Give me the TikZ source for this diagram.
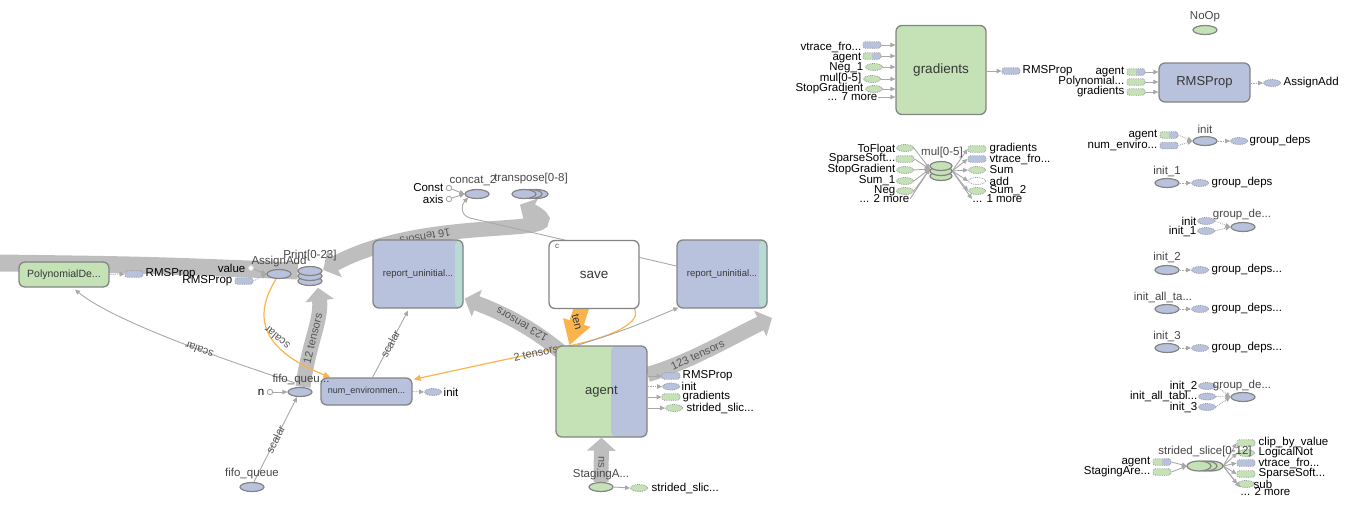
\documentclass[tikz,border=0pt]{standalone}
\usepackage{fontspec}
\setmainfont{Liberation Sans}
\usetikzlibrary{shapes.geometric,arrows.meta,calc}
\pgfdeclarelayer{bg}
\pgfsetlayers{bg,main}
\definecolor{nodeblue}{RGB}{184,194,221}
\definecolor{nodegreen}{RGB}{196,226,182}
\definecolor{tealc}{RGB}{182,219,212}
\definecolor{bordergray}{RGB}{132,132,132}
\definecolor{pillborder}{RGB}{150,150,160}
\definecolor{bandgray}{RGB}{190,190,190}
\definecolor{edgegray}{RGB}{168,168,168}
\definecolor{orangec}{RGB}{250,180,75}
\definecolor{txtgray}{RGB}{70,70,70}
\definecolor{boxtxt}{RGB}{55,55,55}
\definecolor{edgetxt}{RGB}{85,85,85}
\begin{document}
\begin{tikzpicture}[x=1pt,y=-1pt,
  lbl/.style={font=\fontsize{11.5}{12}\selectfont, text=black, inner sep=0.5pt},
  nlbl/.style={font=\fontsize{11.5}{12}\selectfont, text=txtgray, inner sep=0.5pt},
  elbl/.style={font=\fontsize{11}{12}\selectfont, text=edgetxt, inner sep=0pt},
  bigbox/.style={draw=bordergray, line width=1.3pt, rounded corners=6pt, inner sep=0pt, text=boxtxt},
  bbox/.style={bigbox, fill=nodeblue},
  gbox/.style={bigbox, fill=nodegreen},
  reportbox/.style={bbox, minimum width=90pt, minimum height=68pt, font=\fontsize{9.5}{11}\selectfont,
    path picture={\fill[tealc] ([xshift=-8pt]path picture bounding box.north east) rectangle (path picture bounding box.south east);}},
  agentbox/.style={gbox, minimum width=91pt, minimum height=91pt, font=\fontsize{13}{14}\selectfont,
    path picture={\fill[nodeblue] ([xshift=9.5pt]path picture bounding box.north) rectangle (path picture bounding box.south east);}},
  opnode/.style={ellipse, draw=bordergray, line width=1.2pt, fill=nodeblue, minimum width=24pt, minimum height=9pt, inner sep=0pt},
  gop/.style={opnode, fill=nodegreen},
  pill/.style={rounded corners=2.5pt, draw=pillborder, densely dotted, line width=0.8pt, minimum width=18pt, minimum height=6.5pt, inner sep=0pt},
  pillb/.style={pill, fill=nodeblue},
  pillg/.style={pill, fill=nodegreen},
  pillgb/.style={pill, fill=nodegreen, path picture={\fill[nodeblue] (path picture bounding box.north) rectangle (path picture bounding box.south east);}},
  dell/.style={ellipse, draw=pillborder, densely dotted, line width=0.8pt, minimum width=17pt, minimum height=7pt, inner sep=0pt},
  dellb/.style={dell, fill=nodeblue},
  dellg/.style={dell, fill=nodegreen},
  dellw/.style={dell, fill=white},
  cst/.style={circle, draw=edgegray, fill=white, line width=0.9pt, minimum size=5.5pt, inner sep=0pt},
  tedge/.style={draw=edgegray, line width=0.9pt, -{Triangle[width=4.5pt,length=5pt]}},
  cedge/.style={tedge, densely dotted},
  oedge/.style={draw=orangec, line width=1.2pt, -{Triangle[width=6pt,length=7pt]}},
  band/.style={draw=bandgray, line width=15pt},
  oband/.style={draw=orangec, line width=15pt},
  bigtip/.style={-{Triangle[width=28pt,length=13pt]}}
]
\useasboundingbox (0,0) rectangle (1356,504);

% ---------------- left part: nodes ----------------
\node[gbox, minimum width=90pt, minimum height=25pt, font=\fontsize{10.5}{12}\selectfont] (poly) at (64,274.5) {PolynomialDe...};
\node[pillb] (polyout) at (134,274) {};
\node[lbl, anchor=west] (polyoutl) at (145,274) {RMSProp};

\node[opnode] (assign) at (279,274) {};
\node[nlbl] (assignl) at (279,262) {AssignAdd};
\node[cst, draw=white!70!gray, minimum size=5pt] (valc) at (251,268) {};
\node[lbl, anchor=east] (vall) at (246,268) {value};
\node[pillb] (assignin) at (244,281) {};
\node[lbl, anchor=east] (assigninl) at (233,281) {RMSProp};

\node[minimum width=24pt, minimum height=19pt, inner sep=0pt] (print) at (310,276) {};
\foreach \yy in {281,276,271} \node[opnode] at (310,\yy) {};
\node[nlbl] (printl) at (310,256) {Print[0-23]};

\node[cst] (const) at (449,188) {};
\node[lbl, anchor=east] (constl) at (444,188) {Const};
\node[cst] (axis) at (449,199) {};
\node[lbl, anchor=east] (axisl) at (444,199) {axis};
\node[opnode] (concat) at (477,194) {};
\node[minimum width=36pt, minimum height=9pt, inner sep=0pt] (transp) at (530,194) {};
\foreach \xx in {536,530,524} \node[opnode] at (\xx,194) {};
\node[nlbl] (concatl) at (473,181) {concat\_2};
\node[nlbl] (transpl) at (531,179) {transpose[0-8]};

\node[reportbox] (repL) at (418,274) {report\_uninitial...};
\node[bigbox, fill=white, minimum width=90pt, minimum height=68pt, font=\fontsize{13.5}{14}\selectfont] (save) at (594,274.5) {save};
\node[font=\fontsize{8}{8}\selectfont, text=edgetxt, inner sep=0pt] (savec) at (557,246) {c};
\node[reportbox] (repR) at (722,274) {report\_uninitial...};

\node[agentbox] (agent) at (601.5,391.5) {agent};
\node[pillb] (ao1) at (671,376) {};
\node[lbl, anchor=west] (ao1l) at (682,376) {RMSProp};
\node[dellb] (ao2) at (671,386.5) {};
\node[lbl, anchor=west] (ao2l) at (681,386.5) {init};
\node[pillg] (ao3) at (671,397) {};
\node[lbl, anchor=west] (ao3l) at (682,397) {gradients};
\node[dellg] (ao4) at (674,408) {};
\node[lbl, anchor=west] (ao4l) at (686,408) {strided\_slic...};

\node[bbox, minimum width=91pt, minimum height=27pt, font=\fontsize{9}{11}\selectfont] (numenv) at (366.5,391.5) {num\_environmen...};
\node[dellb] (nei) at (433,392) {};
\node[lbl, anchor=west] (neil) at (443,392) {init};

\node[opnode] (fifoq) at (300,392) {};
\node[nlbl] (fifoql) at (301,380) {fifo\_queu...};
\node[cst] (nc) at (270,392) {};
\node[lbl, anchor=east] (ncl) at (265,392) {n};
\node[opnode] (fifo) at (252,487) {};
\node[nlbl] (fifol) at (252,474) {fifo\_queue};

\node[gop] (stag) at (601,487) {};
\node[nlbl] (stagl) at (601,475) {StagingA...};
\node[dellg] (stagout) at (639,488) {};
\node[lbl, anchor=west] (stagoutl) at (651,488) {strided\_slic...};

% ---------------- left part: edges ----------------
\begin{pgfonlayer}{bg}
\coordinate (lefte) at (0,263);
\coordinate (rightend) at (772,318);
\draw[band, line width=17pt] (lefte) .. controls (150,265) .. ($(print.west)+(0,-5)$);
\draw[band, {Triangle[width=30pt,length=13pt]}-{Triangle[width=28pt,length=13pt]}]
  ($(print.east)+(1,-6)$) .. controls (430,212) and (585,240) .. ($(transp.south)+(-10,6)$)
  node[elbl, pos=0.3, sloped, rotate=180] {16 tensors};
\draw[band, bigtip] ($(agent.north west)+(5,6)$) .. controls (530,326) and (500,312) .. ($(repL.south east)+(1,-10)$)
  node[elbl, pos=0.42, sloped, allow upside down] {123 tensors};
\draw[band, bigtip] ($(agent.east)+(0,-17)$) .. controls (690,362) and (730,338) .. (rightend)
  node[elbl, pos=0.4, sloped] {123 tensors};
\draw[band, bigtip] ($(fifoq.north)+(3,0)$) .. controls (308,345) and (322,320) .. ($(print.south)+(8,2)$)
  node[elbl, pos=0.45, sloped] {12 tensors};
\draw[band, bigtip] (stag.north) -- (agent.south) node[elbl, pos=0.45, rotate=-90] {ns};
\draw[oband, -{Triangle[width=27pt,length=24pt]}] ($(save.south)+(-11,-6)$) -- ($(agent.north west)+(14,0)$)
  node[elbl, pos=0.45, rotate=-75, text=boxtxt] {ten};

\draw[tedge] ($(fifoq.north)+(-5,-4)$) .. controls (200,352) and (110,318) .. ($(poly.south)+(11,2)$)
  node[elbl, pos=0.35, sloped, allow upside down] {scalar};
\draw[oedge] ($(assign.south)+(-3,0)$) .. controls (252,318) and (262,350) .. ($(numenv.north west)+(10,0)$);
\draw[tedge] ($(numenv.north)+(6,0)$) -- ($(repL.south)+(-10,2)$) node[elbl, midway, sloped] {scalar};
\draw[tedge] ($(fifo.north)+(2,0)$) -- ($(fifoq.south)+(-3,0)$) node[elbl, midway, sloped] {scalar};
\draw[tedge] (nc) -- (fifoq.west);
\draw[oedge] ($(save.south east)+(-5,0)$) .. controls (643,325) and (600,340) .. ($(agent.north west)+(11,1)$)
  -- ($(numenv.north east)+(1,2)$) node[elbl, pos=0.2, sloped] {2 tensors};
\draw[tedge] ($(agent.north west)+(22,0)$) .. controls (625,330) .. ($(repR.south west)+(2,-1)$);
\draw[tedge] ($(repR.west)+(0,-8)$) -- (470,218) .. controls (460,215) and (461,205) .. (concat.south west);
\draw[tedge] (const) -- (concat.west);
\draw[tedge] (axis) -- (concat.west);
\draw[tedge] (valc) -- (assign.west);
\draw[cedge] (assignin.east) -- (assign.west);
\draw[cedge] (poly.east) -- (polyout.west);
\draw[cedge] (numenv.east) -- (nei.west);
\draw[tedge] (agent.east |- ao1) -- (ao1.west);
\draw[cedge] (agent.east |- ao2) -- (ao2.west);
\draw[tedge] (agent.east |- ao3) -- (ao3.west);
\draw[tedge] (agent.east |- ao4) -- (ao4.west);
\draw[tedge] (stag.east) -- (stagout.west);
\end{pgfonlayer}
\node[elbl, rotate=140] (oscal) at (277,338) {scalar};

% ---------------- right part ----------------
\node[gbox, minimum width=90pt, minimum height=89pt, font=\fontsize{13.5}{14}\selectfont] (grad) at (941,70) {gradients};
\node[pillb] (gi1) at (872,45) {};
\node[lbl, anchor=east] (gi1l) at (862,47) {vtrace\_fro...};
\node[pillgb] (gi2) at (872,56) {};
\node[lbl, anchor=east] (gi2l) at (862,57.5) {agent};
\node[dellg] (gi3) at (874,67) {};
\node[lbl, anchor=east] (gi3l) at (864,67.5) {Neg\_1};
\node[dellg] (gi4) at (872,79) {};
\node[lbl, anchor=east] (gi4l) at (862,78.5) {mul[0-5]};
\node[dellg] (gi5) at (874,89) {};
\node[lbl, anchor=east] (gi5l) at (864,88.5) {StopGradient};
\node[lbl, anchor=east] (gi6l) at (878,97) {... 7 more};
\foreach \n in {gi1,gi2,gi3,gi4,gi5} \draw[tedge] (\n.east) -- (\n -| grad.west);
\draw[tedge] (gi6l.east) -- (gi6l -| grad.west);
\node[pillb] (gout) at (1011,71) {};
\node[lbl, anchor=west] (goutl) at (1022,71) {RMSProp};
\draw[tedge] (grad.east |- gout) -- (gout.west);

\node[gop] (noop) at (1205,30) {};
\node[nlbl] (noopl) at (1205,17) {NoOp};

\node[bbox, minimum width=91pt, minimum height=39pt, font=\fontsize{13}{14}\selectfont] (rms) at (1204.5,82.5) {RMSProp};
\node[pillgb] (ri1) at (1136,72) {};
\node[lbl, anchor=east] (ri1l) at (1125,72) {agent};
\node[pillg] (ri2) at (1136,82) {};
\node[lbl, anchor=east] (ri2l) at (1125,82) {Polynomial...};
\node[pillg] (ri3) at (1136,92) {};
\node[lbl, anchor=east] (ri3l) at (1125,92) {gradients};
\foreach \n in {ri1,ri2,ri3} \draw[tedge] (\n.east) -- (\n -| rms.west);
\node[dellb] (rout) at (1272,83) {};
\node[lbl, anchor=west] (routl) at (1283,83) {AssignAdd};
\draw[cedge] (rms.east |- rout) -- (rout.west);

\node[opnode] (init) at (1205,141) {};
\node[nlbl] (initl) at (1205,129) {init};
\node[pillgb] (ii1) at (1169,135) {};
\node[lbl, anchor=east] (ii1l) at (1158,135) {agent};
\node[pillb] (ii2) at (1169,145.5) {};
\node[lbl, anchor=east] (ii2l) at (1158,145.5) {num\_enviro...};
\draw[cedge] (ii1.east) -- (init.west);
\draw[cedge] (ii2.east) -- (init.west);
\node[dellb] (io) at (1239,141) {};
\node[lbl, anchor=west] (iol) at (1249,141) {group\_deps};
\draw[cedge] (init.east) -- (io.west);

\node[opnode] (init1) at (1167,183) {};
\node[nlbl] (init1l) at (1167,171) {init\_1};
\node[dellb] (i1o) at (1200,183) {};
\node[lbl, anchor=west] (i1ol) at (1211,183) {group\_deps};
\draw[cedge] (init1.east) -- (i1o.west);

\node[opnode] (gd1) at (1243,227) {};
\node[dellb] (gd1a) at (1206,221) {};
\node[lbl, anchor=east] (gd1al) at (1197,221) {init};
\node[dellb] (gd1b) at (1206,231) {};
\node[lbl, anchor=east] (gd1bl) at (1197,231) {init\_1};
\draw[cedge] (gd1a.east) -- (gd1.west);
\draw[cedge] (gd1b.east) -- (gd1.west);
\node[nlbl] (gd1l) at (1242,215) {group\_de...};

\node[opnode] (init2) at (1167,270) {};
\node[nlbl] (init2l) at (1167,257) {init\_2};
\node[dellb] (i2o) at (1200,270) {};
\node[lbl, anchor=west] (i2ol) at (1211,270) {group\_deps...};
\draw[cedge] (init2.east) -- (i2o.west);

\node[opnode] (initall) at (1167,309) {};
\node[nlbl] (initalll) at (1163,297) {init\_all\_ta...};
\node[dellb] (iao) at (1200,309) {};
\node[lbl, anchor=west] (iaol) at (1211,309) {group\_deps...};
\draw[cedge] (initall.east) -- (iao.west);

\node[opnode] (init3) at (1167,348) {};
\node[nlbl] (init3l) at (1167,336) {init\_3};
\node[dellb] (i3o) at (1200,348) {};
\node[lbl, anchor=west] (i3ol) at (1211,348) {group\_deps...};
\draw[cedge] (init3.east) -- (i3o.west);

\node[opnode] (gd2) at (1243,397) {};
\node[dellb] (gd2a) at (1207,386) {};
\node[lbl, anchor=east] (gd2al) at (1198,386) {init\_2};
\node[dellb] (gd2b) at (1207,396.5) {};
\node[lbl, anchor=east] (gd2bl) at (1198,396.5) {init\_all\_tabl...};
\node[dellb] (gd2c) at (1207,407) {};
\node[lbl, anchor=east] (gd2cl) at (1198,407) {init\_3};
\draw[cedge] (gd2a.east) -- (gd2.west);
\draw[cedge] (gd2b.east) -- (gd2.west);
\draw[cedge] (gd2c.east) -- (gd2.west);
\node[nlbl] (gd2l) at (1242,386) {group\_de...};

% mul[0-5]
\node[minimum width=22pt, minimum height=18pt, inner sep=0pt] (mul) at (941,171) {};
\node[dellg] (mi1) at (905,148) {};
\node[lbl, anchor=east] (mi1l) at (896,148) {ToFloat};
\node[pillg] (mi2) at (905,159) {};
\node[lbl, anchor=east] (mi2l) at (896,159) {SparseSoft...};
\node[dellg] (mi3) at (905,170) {};
\node[lbl, anchor=east] (mi3l) at (896,170) {StopGradient};
\node[dellg] (mi4) at (905,181) {};
\node[lbl, anchor=east] (mi4l) at (896,181) {Sum\_1};
\node[dellg] (mi5) at (905,191) {};
\node[lbl, anchor=east] (mi5l) at (896,191) {Neg};
\node[lbl, anchor=east] (mi6l) at (910,199) {... 2 more};
\foreach \n in {mi1,mi2,mi3,mi4,mi5} \draw[tedge] (\n.east) -- ($(mul.west)+(0,-2)$);
\draw[tedge] (mi6l.east) -- ($(mul.west)+(0,-2)$);
\node[pillg] (mo1) at (977,149) {};
\node[lbl, anchor=west] (mo1l) at (989,149) {gradients};
\node[pillb] (mo2) at (977,159) {};
\node[lbl, anchor=west] (mo2l) at (989,159) {vtrace\_fro...};
\node[dellg] (mo3) at (977,170) {};
\node[lbl, anchor=west] (mo3l) at (989,170) {Sum};
\node[dellw] (mo4) at (977,181) {};
\node[lbl, anchor=west] (mo4l) at (989,181) {add};
\node[dellg] (mo5) at (977,191) {};
\node[lbl, anchor=west] (mo5l) at (989,191) {Sum\_2};
\node[lbl, anchor=west] (mo6l) at (972,199) {... 1 more};
\foreach \n in {mo1,mo2,mo3,mo4,mo5} \draw[tedge] (mul.east) -- (\n.west);
\draw[tedge] (mul.east) -- (mo6l.west);
\foreach \yy in {176,171,166} \node[gop, minimum width=22pt] at (941,\yy) {};
\node[nlbl] (mull) at (942,153) {mul[0-5]};

% strided_slice[0-12]
\node[minimum width=36pt, minimum height=10pt, inner sep=0pt] (ss) at (1205,466) {};
\node[pillgb] (si1) at (1162,462) {};
\node[lbl, anchor=east] (si1l) at (1151,462) {agent};
\node[pillg] (si2) at (1162,472) {};
\node[lbl, anchor=east] (si2l) at (1151,472) {StagingAre...};
\draw[tedge] (si1.east) -- (ss.west);
\draw[tedge] (si2.east) -- (ss.west);
\node[pillg] (so1) at (1246,443) {};
\node[lbl, anchor=west] (so1l) at (1258,443) {clip\_by\_value};
\node[dellg] (so2) at (1246,453) {};
\node[lbl, anchor=west] (so2l) at (1258,453) {LogicalNot};
\node[pillb] (so3) at (1246,463) {};
\node[lbl, anchor=west] (so3l) at (1258,463) {vtrace\_fro...};
\node[pillg] (so4) at (1246,474) {};
\node[lbl, anchor=west] (so4l) at (1258,474) {SparseSoft...};
\node[dellg] (so5) at (1246,484) {};
\node[lbl, anchor=west] (so5l) at (1253,484) {sub};
\node[lbl, anchor=west] (so6l) at (1240,492) {... 2 more};
\foreach \n in {so1,so2,so3,so4,so5} \draw[tedge] (ss.east) -- (\n.west);
\draw[tedge] (ss.east) -- (so6l.north west);
\foreach \xx in {1211,1205,1199} \node[gop, minimum height=10pt] at (\xx,466) {};
\node[nlbl] (ssl) at (1205,452) {strided\_slice[0-12]};
\end{tikzpicture}
\end{document}
